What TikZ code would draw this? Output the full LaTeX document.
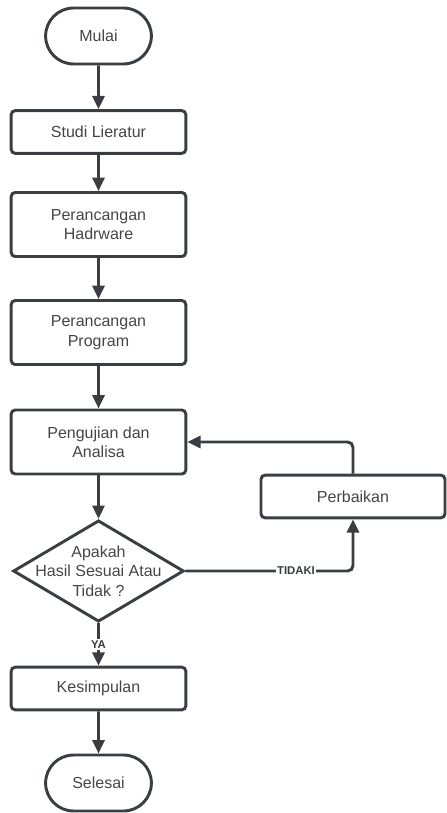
\documentclass[tikz,border=0pt]{standalone}
\usepackage{fontspec}
\setmainfont{Liberation Sans}
\usepackage{xcolor}
\usepackage{tikz}
\usetikzlibrary{positioning, arrows.meta, shapes.geometric, shapes.misc}
\definecolor{garis}{HTML}{3A3D42}
\definecolor{teks}{HTML}{454545}

\begin{document}
\begin{tikzpicture}[x=0.75pt, y=-0.75pt,
    terminal/.style={rounded rectangle, draw=garis, line width=2.2pt, minimum width=86pt, minimum height=42pt, font=\fontsize{12}{14.5}\selectfont, text=teks},
    proses/.style={rectangle, draw=garis, line width=2.2pt, rounded corners=3pt, minimum width=131pt, minimum height=32pt, align=center, font=\fontsize{12}{14.5}\selectfont, text=teks},
    keputusan/.style={diamond, draw=garis, line width=2.2pt, minimum width=128pt, minimum height=76pt, inner sep=0pt},
    panah/.style={draw=garis, line width=2.2pt, -{Triangle[length=10pt, width=9pt]}},
    ket/.style={font=\fontsize{8.5}{10}\selectfont\bfseries, text=garis, fill=white, inner sep=1pt}]

\useasboundingbox (0,0) rectangle (446,813);

\node[terminal] (mulai) at (98.5, 36) {Mulai};
\node[proses] (studi) at (98.5, 132) {Studi Lieratur};
\node[proses, minimum height=48pt] (hardware) at (98.5, 224.5) {Perancangan\\Hadrware};
\node[proses, minimum height=48pt] (program) at (98.5, 332.5) {Perancangan\\Program};
\node[proses, minimum height=48pt] (uji) at (98.5, 442) {Pengujian dan\\Analisa};
\node[keputusan] (cek) at (98.5, 571) {};
\node[font=\fontsize{12}{14.5}\selectfont, text=teks, align=center] (cektxt) at (cek) {Apakah\\Hasil Sesuai Atau\\Tidak ?};
\node[proses] (kesimpulan) at (98.5, 688.5) {Kesimpulan};
\node[terminal] (selesai) at (98.5, 783) {Selesai};
\node[proses, minimum width=138pt] (perbaikan) at (353, 496.5) {Perbaikan};

\foreach \a/\b in {mulai/studi, studi/hardware, hardware/program, program/uji, uji/cek, kesimpulan/selesai}
    \draw[panah] (\a) -- (\b);

\draw[panah] (cek) -- node[ket] {YA} (kesimpulan);
\draw[panah, rounded corners=4pt] (cek.east) -| node[ket, pos=0.33] {TIDAKI} (perbaikan.south);
\draw[panah, rounded corners=4pt] (perbaikan.north) |- (uji.east);

\end{tikzpicture}
\end{document}
